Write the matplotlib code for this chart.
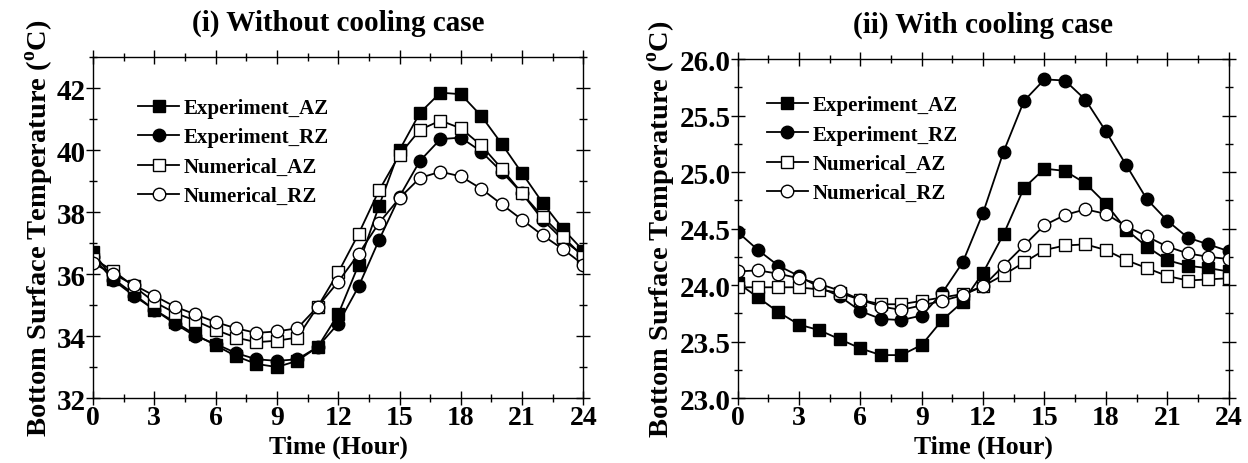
import matplotlib
matplotlib.use("Agg")
import matplotlib.pyplot as plt
from matplotlib.ticker import MultipleLocator

plt.rcParams["font.family"] = ["Liberation Serif", "DejaVu Serif"]
plt.rcParams["font.weight"] = "bold"
plt.rcParams["mathtext.fontset"] = "custom"
plt.rcParams["mathtext.rm"] = "Liberation Serif:bold"
plt.rcParams["mathtext.bf"] = "Liberation Serif:bold"

hours = list(range(25))

# (i) without cooling
exp_az_1 = [36.7, 35.85, 35.35, 34.85, 34.45, 34.05, 33.7, 33.35, 33.1, 33.0, 33.2, 33.65, 34.7,
            36.3, 38.2, 40.0, 41.2, 41.85, 41.8, 41.1, 40.2, 39.25, 38.3, 37.45, 36.75]
exp_rz_1 = [36.55, 35.8, 35.3, 34.85, 34.4, 34.0, 33.75, 33.45, 33.25, 33.2, 33.25, 33.65, 34.4,
            35.6, 37.1, 38.5, 39.65, 40.35, 40.4, 39.95, 39.3, 38.6, 37.75, 37.1, 36.6]
num_az_1 = [36.5, 36.1, 35.6, 35.1, 34.75, 34.5, 34.2, 33.95, 33.8, 33.85, 33.95, 34.95, 36.05,
            37.3, 38.7, 39.85, 40.65, 40.95, 40.7, 40.15, 39.4, 38.6, 37.85, 37.2, 36.55]
num_rz_1 = [36.35, 36.0, 35.65, 35.3, 34.95, 34.7, 34.45, 34.25, 34.1, 34.15, 34.25, 34.95, 35.75,
            36.65, 37.65, 38.45, 39.1, 39.3, 39.15, 38.75, 38.25, 37.75, 37.25, 36.8, 36.3]

# (ii) with cooling
exp_az_2 = [24.02, 23.89, 23.76, 23.65, 23.6, 23.52, 23.44, 23.38, 23.38, 23.47, 23.69, 23.85, 24.11,
            24.45, 24.86, 25.03, 25.01, 24.9, 24.72, 24.49, 24.34, 24.22, 24.17, 24.15, 24.12]
exp_rz_2 = [24.47, 24.31, 24.17, 24.08, 23.98, 23.9, 23.77, 23.7, 23.69, 23.73, 23.93, 24.2, 24.64,
            25.18, 25.63, 25.82, 25.81, 25.64, 25.36, 25.06, 24.76, 24.57, 24.42, 24.36, 24.3]
num_az_2 = [23.98, 23.98, 23.98, 23.98, 23.96, 23.93, 23.87, 23.83, 23.83, 23.86, 23.89, 23.92, 23.99,
            24.09, 24.2, 24.31, 24.35, 24.36, 24.31, 24.22, 24.15, 24.08, 24.04, 24.05, 24.06]
num_rz_2 = [24.12, 24.13, 24.1, 24.06, 24.01, 23.95, 23.87, 23.81, 23.78, 23.82, 23.86, 23.91, 23.99,
            24.17, 24.35, 24.53, 24.62, 24.67, 24.63, 24.52, 24.43, 24.34, 24.28, 24.25, 24.23]

labels = ["Experiment_AZ", "Experiment_RZ", "Numerical_AZ", "Numerical_RZ"]
styles = [("s", "black"), ("o", "black"), ("s", "white"), ("o", "white")]

fig = plt.figure(figsize=(12.48, 4.64), dpi=100)
ax1 = fig.add_axes([0.0745, 0.14, 0.393, 0.735])
ax2 = fig.add_axes([0.591, 0.14, 0.3935, 0.7306])


def draw(ax, series, title, ylim, ymaj, ymin, yfmt, legloc):
    for ys, lab, (mk, fc) in zip(series, labels, styles):
        ms = 8.0 if mk == "s" else 9.0
        ax.plot(hours, ys, marker=mk, color="black", mfc=fc, mec="black",
                ms=ms, lw=1.3, mew=1.0, label=lab)
    ax.set_xlim(0, 24)
    ax.set_ylim(*ylim)
    ax.xaxis.set_major_locator(MultipleLocator(3))
    ax.xaxis.set_minor_locator(MultipleLocator(1.5))
    ax.yaxis.set_major_locator(MultipleLocator(ymaj))
    ax.yaxis.set_minor_locator(MultipleLocator(ymin))
    ax.yaxis.set_major_formatter(yfmt)
    ax.tick_params(which="both", direction="inout", top=True, right=True,
                   labelsize=21, width=1.0, pad=0)
    ax.tick_params(axis="x", labelsize=20)
    ax.tick_params(which="major", length=10)
    ax.tick_params(which="minor", length=6)
    for s in ax.spines.values():
        s.set_linewidth(1.0)
    ax.set_title(title, fontsize=21, fontweight="bold", pad=20)
    ax.set_xlabel("Time (Hour)", fontsize=18.5, fontweight="bold")
    ax.xaxis.set_label_coords(0.5, -0.107)
    ax.set_ylabel(r"Bottom Surface Temperature ($^\mathbf{o}$C)", fontsize=20.5,
                  fontweight="bold", labelpad=1)
    ax.legend(loc="upper left", bbox_to_anchor=legloc, frameon=False,
              prop={"size": 15, "weight": "bold"}, handlelength=2.0,
              handletextpad=0.2, labelspacing=0.45, borderpad=0)


draw(ax1, [exp_az_1, exp_rz_1, num_az_1, num_rz_1], "(i) Without cooling case",
     (32, 43), 2, 1, "{x:.0f}", (0.07, 0.91))
draw(ax2, [exp_az_2, exp_rz_2, num_az_2, num_rz_2], "(ii) With cooling case",
     (23.0, 26.0), 0.5, 0.25, "{x:.1f}", (0.038, 0.924))

fig.savefig("out.png", dpi=100)
